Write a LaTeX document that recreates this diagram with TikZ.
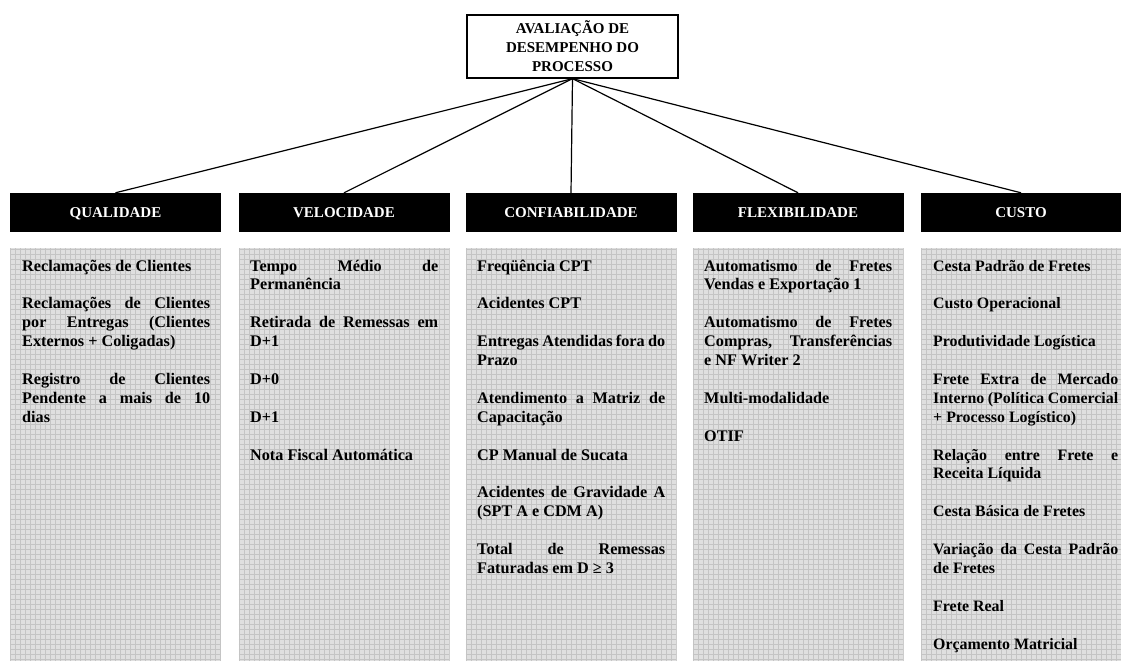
\documentclass[tikz,border=0pt]{standalone}
\usepackage{fontspec}
\setmainfont{Liberation Serif}
\definecolor{gridbg}{RGB}{223,223,223}
\definecolor{gridln}{RGB}{196,196,196}
\tikzset{
  topbox/.style={draw=black, line width=1.3pt, minimum width=211pt, minimum height=63pt, inner sep=0pt, align=center, font=\bfseries\fontsize{15}{19}\selectfont},
  hdr/.style={fill=black, text=white, font=\bfseries\fontsize{15}{18}\selectfont, minimum width=211pt, minimum height=39pt, inner sep=0pt, text height=10.5pt, text depth=0pt},
  panel/.style={fill=gridbg, minimum width=211pt, minimum height=413pt, inner sep=0pt,
    path picture={\draw[gridln, line width=0.5pt, step=5pt] (path picture bounding box.south west) grid (path picture bounding box.north east);}},
  items/.style={anchor=base west, text width=188pt, align=justify, inner sep=0pt, font=\bfseries\fontsize{16.2}{18.9}\selectfont,
    execute at begin node={\setlength{\parskip}{18.9pt}\parindent=0pt\hyphenpenalty=10000\exhyphenpenalty=10000\tolerance=10000\emergencystretch=0pt\hfuzz=30pt}},
  link/.style={line width=1.2pt},
}
\begin{document}
\begin{tikzpicture}[x=1pt,y=-1pt]
\useasboundingbox (0,0) rectangle (1121,661);

\node[topbox] (top) at (572.5,46.5) {AVALIAÇÃO DE\\DESEMPENHO DO\\PROCESSO};

\node[hdr] (hq) at (115.5,212.5) {QUALIDADE};
\node[hdr] (hv) at (344,212.5) {VELOCIDADE};
\node[hdr] (hc) at (571,212.5) {CONFIABILIDADE};
\node[hdr] (hf) at (798,212.5) {FLEXIBILIDADE};
\node[hdr, minimum width=200pt] (hu) at (1021,212.5) {CUSTO};

\draw[link] (top.south) -- (hq.north);
\draw[link] (top.south) -- (hv.north);
\draw[link] (top.south) -- (hc.north);
\draw[link] (top.south) -- (hf.north);
\draw[link] (top.south) -- (hu.north);

\node[panel] (pq) at (115.5,454.5) {};
\node[panel] (pv) at (344,454.5) {};
\node[panel] (pc) at (571,454.5) {};
\node[panel] (pf) at (798,454.5) {};
\node[panel, minimum width=200pt] (pu) at (1021,454.5) {};

\node[items] (tq) at (22,271) {Reclamações de Clientes\par
Reclamações de Clientes\linebreak por Entregas (Clientes\linebreak Externos + Coligadas)\par
Registro de Clientes\linebreak Pendente a mais de 10\linebreak dias};

\node[items] (tv) at (250,271) {Tempo Médio de\linebreak Permanência\par
Retirada de Remessas em\linebreak D+1\par
D+0\par
D+1\par
Nota Fiscal Automática};

\node[items] (tc) at (477,271) {Freqüência CPT\par
Acidentes CPT\par
Entregas Atendidas fora do\linebreak Prazo\par
Atendimento a Matriz de\linebreak Capacitação\par
CP Manual de Sucata\par
Acidentes de Gravidade A\linebreak (SPT A e CDM A)\par
Total de Remessas\linebreak Faturadas em D ≥ 3};

\node[items] (tf) at (704,271) {Automatismo de Fretes\linebreak Vendas e Exportação 1\par
Automatismo de Fretes\linebreak Compras, Transferências\linebreak e NF Writer 2\par
Multi-modalidade\par
OTIF};

\node[items, text width=185pt, font=\bfseries\fontsize{15.9}{18.9}\selectfont] (tu) at (933,271) {Cesta Padrão de Fretes\par
Custo Operacional\par
Produtividade Logística\par
Frete Extra de Mercado\linebreak Interno (Política Comercial\linebreak + Processo Logístico)\par
Relação entre Frete e\linebreak Receita Líquida\par
Cesta Básica de Fretes\par
Variação da Cesta Padrão\linebreak de Fretes\par
Frete Real\par
Orçamento Matricial};
\end{tikzpicture}
\end{document}
